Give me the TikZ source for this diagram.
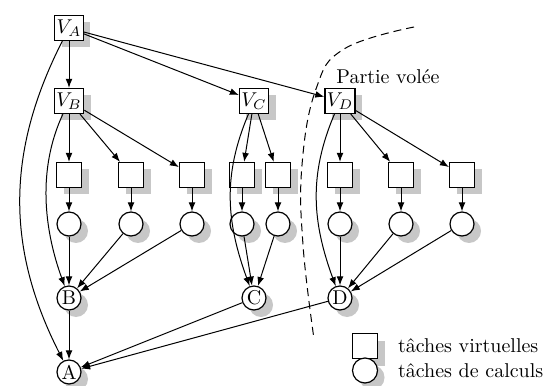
\documentclass[tikz,border=0pt]{standalone}
\usepackage{fontspec}
\usetikzlibrary{shadows,positioning,arrows.meta}
\begin{document}
\begin{tikzpicture}[node distance=37pt, >={Latex[length=4.5pt,width=3.4pt]},
		virt/.style={draw, line width=0.6pt, fill=white, minimum size=12.5pt, inner sep=1pt,
			drop shadow={shadow xshift=3.5pt, shadow yshift=-3.5pt, fill=black!22, opacity=1}},
		calc/.style={virt, circle, minimum size=12pt, inner sep=0.5pt},
		every path/.style={line width=0.5pt}]
			\useasboundingbox (0,0) rectangle (272pt,192.5pt);
			\node[virt](VA)		at (34.5pt,178.5pt)								{$V_A$};
			\node[virt](VB)		[below of=VA, node distance=36.5pt]			{$V_B$};
			\node[virt](VC)		[right of=VB, node distance=92.5pt]			{$V_C$};
			\node[virt](VD)		[right of=VC, node distance=43pt]			{$V_D$};
			\node(Partie)			at (194pt,154pt)									{Partie volée};
			\node[virt](SqB1)		[below of=VB]											{};
			\node[virt](SqB2)		[right of=SqB1, node distance=31pt]		{};
			\node[virt](SqB3)		[right of=SqB2, node distance=30.5pt]	{};
			\node[virt](SqC1)		[below of=VC, xshift=-6pt]						{};
			\node[virt](SqC2)		[right of=SqC1, node distance=18pt]		{};
			\node[virt](SqD1)		[below of=VD]											{};
			\node[virt](SqD2)		[right of=SqD1, node distance=30.5pt]	{};
			\node[virt](SqD3)		[right of=SqD2, node distance=30.5pt]	{};
			\node[calc](CiB1)		[below of=SqB1, node distance=24.5pt]	{};
			\node[calc](CiB2)		[below of=SqB2, node distance=24.5pt]	{};
			\node[calc](CiB3)		[below of=SqB3, node distance=24.5pt]	{};
			\node[calc](CiC1)		[below of=SqC1, node distance=24.5pt]	{};
			\node[calc](CiC2)		[below of=SqC2, node distance=24.5pt]	{};
			\node[calc](CiD1)		[below of=SqD1, node distance=24.5pt]	{};
			\node[calc](CiD2)		[below of=SqD2, node distance=24.5pt]	{};
			\node[calc](CiD3)		[below of=SqD3, node distance=24.5pt]	{};
			\node[calc](B)			[below of=CiB1]										{B};
			\node[calc](C)			[below of=VC, node distance=98.5pt]		{C};
			\node[calc](D)			[below of=VD, node distance=98.5pt]		{D};
			\node[calc](A)			[below of=B]											{A};
			% legende
			\node[virt](LegVirt)	at (182.5pt,19.5pt)								{};
			\node[calc, minimum size=12.5pt](LegCalc)	[below of=LegVirt, node distance=12.25pt]	{};
			\node(LegVirtTxt)		[right=6.4pt of LegVirt]						{tâches virtuelles};
			\node(LegCalcTxt)		[right=6.4pt of LegCalc]						{tâches de calculs};
			% V_A
			\draw[->](VA)		-- (VB);
			\draw[->](VA)		-- (VC);
			\draw[->](VA)		-- (VD);
			\draw[->](VA)		to[out=243,in=117] (A);
			% V_B
			\draw[->](VB)		-- (SqB1);
			\draw[->](VB)		-- (SqB2);
			\draw[->](VB)		-- (SqB3);
			\draw[->](VB)		to[out=245,in=110,looseness=0.9] (B);
			\draw[->](SqB1)	-- (CiB1);
			\draw[->](SqB2)	-- (CiB2);
			\draw[->](SqB3)	-- (CiB3);
			\draw[->](CiB1)	-- (B);
			\draw[->](CiB2)	-- (B);
			\draw[->](CiB3)	-- (B);
			\draw[->](B)		-- (A);
			% V_C
			\draw[->](VC)		-- (SqC1);
			\draw[->](VC)		-- (SqC2);
			\draw[->](VC)		to[out=247,in=110] (C);
			\draw[->](SqC1)	-- (CiC1);
			\draw[->](SqC2)	-- (CiC2);
			\draw[->](CiC1)	-- (C);
			\draw[->](CiC2)	-- (C);
			\draw[->](C)		-- (A);
			% V_D
			\draw[->](VD)		-- (SqD1);
			\draw[->](VD)		-- (SqD2);
			\draw[->](VD)		-- (SqD3);
			\draw[->](VD)		to[out=247,in=110] (D);
			\draw[->](SqD1)	-- (CiD1);
			\draw[->](SqD2)	-- (CiD2);
			\draw[->](SqD3)	-- (CiD3);
			\draw[->](CiD1)	-- (D);
			\draw[->](CiD2)	-- (D);
			\draw[->](CiD3)	-- (D);
			\draw[->](D)		-- (A);
			% partie volee
			\draw[dash pattern=on 4pt off 2.5pt] plot[smooth, tension=0.7] coordinates
				{(207pt,179pt) (172pt,168pt) (158pt,148pt) (151pt,110pt) (151.5pt,70pt) (157pt,23pt)};
		\end{tikzpicture}
\end{document}
